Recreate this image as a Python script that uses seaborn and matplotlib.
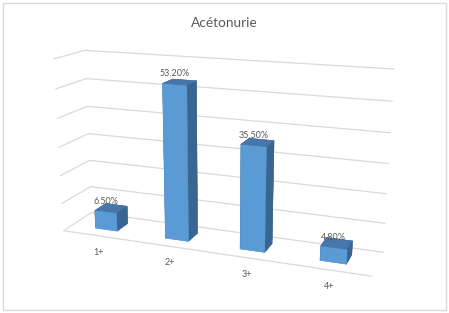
import numpy as np
import pandas as pd
import seaborn as sns
import matplotlib
matplotlib.use("Agg")
import matplotlib.pyplot as plt
from matplotlib.patches import Rectangle
from matplotlib.transforms import offset_copy

# Chart data
categories = ["1+", "2+", "3+", "4+"]
values = [6.5, 53.2, 35.5, 4.8]
grid_values = [0, 10, 20, 30, 40, 50, 60]
title = "Acétonurie"

df = pd.DataFrame({"cat": categories, "val": values})
df["label"] = df["val"].map(lambda v: f"{v:.2f}%")

sns.set_theme(style="white")
plt.rcParams["font.family"] = ["Lato", "DejaVu Sans"]

front_col = "#5B9BD5"
side_col = "#3A6591"
top_col = "#4676AA"
grid_col = "#D9D9D9"
text_col = "#595959"

W, H = 449, 313
fig = plt.figure(figsize=(W / 100, H / 100), dpi=100)
fig.patch.set_facecolor("white")
# chart-area border
fig.patches.append(Rectangle((2.5 / W, 3 / H), 443 / W, 307 / H,
                             transform=fig.transFigure, fill=False,
                             ec=grid_col, lw=1.0))
fig.text(0.5, 1 - 23 / H, title, ha="center", va="center",
         fontsize=9.8, color=text_col)

# 3D view: perspective camera looking slightly down and from the right
ax = fig.add_axes([-0.0229, 0.0421, 1.0, 0.9], projection="3d",
                  computed_zorder=False)
ax.set_facecolor("none")
ax.set_proj_type("persp", focal_length=0.5376)
ax.view_init(elev=15.8, azim=-69.16)
ax.set_box_aspect((5.358, 1, 2.997), zoom=1.317)
ax.set_axis_off()

n = len(df)
x0, x1 = -0.5, n - 0.5

# gridlines on the left wall and the back wall
for g in grid_values[1:]:
    ax.plot([x0, x0, x1], [0, 1, 1], [g, g, g], color=grid_col, lw=0.9,
            zorder=1, clip_on=False)
# floor outline (back edge at 0, left edge, front edge)
ax.plot([x1, x0, x0, x1], [1, 1, 0, 0], [0, 0, 0, 0], color=grid_col, lw=0.9,
        zorder=1, clip_on=False)

# 3D columns
pos = np.arange(n)
w, d, yb = 0.3155, 0.4005, 0.3118
face_colors = []
for _ in pos:
    # bottom, top, front, back, left, right
    face_colors += [front_col, top_col, front_col, side_col, side_col, side_col]
bars = ax.bar3d(pos - w / 2, np.full(n, yb), np.zeros(n), w, d,
                df["val"].to_numpy(), color=face_colors, shade=False,
                zorder=2, edgecolors=face_colors, linewidth=0.3)
bars.set_clip_on(False)

# value labels above the front top edge of each column
lab_tr = offset_copy(ax.transData, fig=fig, x=0, y=8, units="dots")
for i, row in df.iterrows():
    ax.text(i, yb, row["val"], row["label"], ha="center", va="baseline",
            fontsize=6.5, color=text_col, transform=lab_tr, zorder=3)

# category labels under the floor's front edge
cat_tr = offset_copy(ax.transData, fig=fig, x=0.5, y=-16.5, units="dots")
for i, row in df.iterrows():
    ax.text(i, 0, 0, row["cat"], ha="center", va="center",
            fontsize=6.5, color=text_col, transform=cat_tr, zorder=3)

ax.set_xlim(x0, x1)
ax.set_ylim(0, 1)
ax.set_zlim(0, 60)
ax.set_xticks([])
ax.set_yticks([])
ax.set_zticks([])

fig.savefig("out.png", dpi=100, facecolor="white")
